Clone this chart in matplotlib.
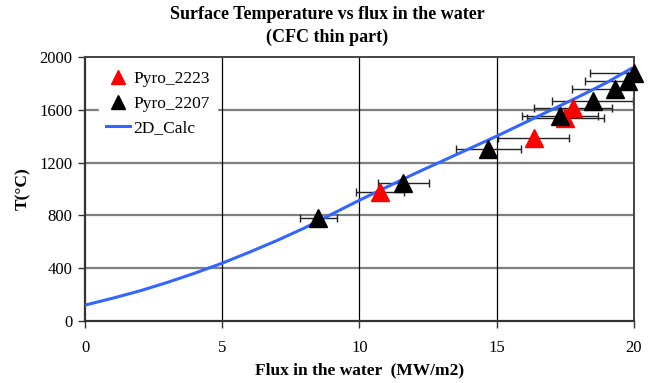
import numpy as np
import matplotlib
matplotlib.use("Agg")
import matplotlib.pyplot as plt

# measured points (flux MW/m2, temperature C)
pyro_2223_x = [10.75, 16.35, 17.5, 17.8]
pyro_2223_y = [980, 1385, 1540, 1615]
pyro_2207_x = [8.5, 11.6, 14.7, 17.3, 18.5, 19.3, 19.8, 20.0]
pyro_2207_y = [780, 1045, 1300, 1555, 1665, 1755, 1820, 1880]

# 2D calculation curve
calc_x = [0, 1, 2, 3, 4, 5, 6, 7, 8, 9, 10, 11, 12, 13, 14, 15, 16, 17, 18, 19, 19.9]
calc_y = [120, 172, 228, 292, 362, 438, 522, 610, 705, 810, 915, 1015, 1115, 1210,
          1305, 1400, 1500, 1600, 1700, 1805, 1912]

err_frac = 0.08  # relative error on flux

plt.rcParams['font.family'] = ['Liberation Serif', 'DejaVu Serif']

fig = plt.figure(figsize=(6.54, 3.83), dpi=100)
ax = fig.add_axes([0.130, 0.162, 0.839, 0.689])

ax.plot(calc_x, calc_y, color='#3366ff', lw=2.2, label='2D_Calc', zorder=3)

x1 = np.array(pyro_2223_x)
ax.errorbar(x1, pyro_2223_y, xerr=err_frac * x1, fmt='none', ecolor='#222222',
            elinewidth=1, capsize=3, capthick=1, zorder=2)
x2 = np.array(pyro_2207_x)
ax.errorbar(x2, pyro_2207_y, xerr=err_frac * x2, fmt='none', ecolor='#222222',
            elinewidth=1, capsize=3, capthick=1, zorder=2)
ax.plot(x1, pyro_2223_y, '^', color='red', ms=13.5, mec='red', ls='none',
        label='Pyro_2223', zorder=4, clip_on=False)
ax.plot(x2, pyro_2207_y, '^', color='black', ms=13.5, mec='black', ls='none',
        label='Pyro_2207', zorder=5, clip_on=False)

ax.set_xlim(0, 20)
ax.set_ylim(0, 2000)
ax.set_xticks([0, 5, 10, 15, 20])
ax.set_yticks([0, 400, 800, 1200, 1600, 2000])
ax.tick_params(labelsize=12, length=5, direction='out', width=1, color='#333333')
ax.tick_params(axis='x', pad=9)
ax.tick_params(axis='y', pad=4)

for yv in [400, 800, 1200, 1600]:
    ax.axhline(yv, color='#7f7f7f', lw=1.6, zorder=1)
for xv in [5, 10, 15]:
    ax.axvline(xv, color='black', lw=0.9, zorder=1)

for side in ['left', 'bottom']:
    ax.spines[side].set_color('#333333')
    ax.spines[side].set_linewidth(1.6)
for side in ['top', 'right']:
    ax.spines[side].set_color('#444444')
    ax.spines[side].set_linewidth(1.4)

ax.set_xlabel('Flux in the water  (MW/m2)', fontsize=12.5, fontweight='bold', labelpad=4)
ax.set_ylabel('T(°C)', fontsize=12.5, fontweight='bold', labelpad=6)
fig.text(0.5, 0.932, 'Surface Temperature vs flux in the water\n(CFC thin part)',
         ha='center', va='center', fontsize=13, fontweight='bold', linespacing=1.4)

handles, labels = ax.get_legend_handles_labels()
order = [labels.index('Pyro_2223'), labels.index('Pyro_2207'), labels.index('2D_Calc')]
leg = ax.legend([handles[i] for i in order], [labels[i] for i in order],
                loc='upper left', bbox_to_anchor=(0.025, 0.975), frameon=True,
                fontsize=12.5, handlelength=1.4, handletextpad=0.2, borderpad=0.4,
                labelspacing=0.5, markerscale=0.72, fancybox=False, borderaxespad=0)
leg.get_frame().set_edgecolor('white')
leg.get_frame().set_facecolor('white')
leg.get_frame().set_alpha(1)

fig.savefig('out.png', dpi=100)
